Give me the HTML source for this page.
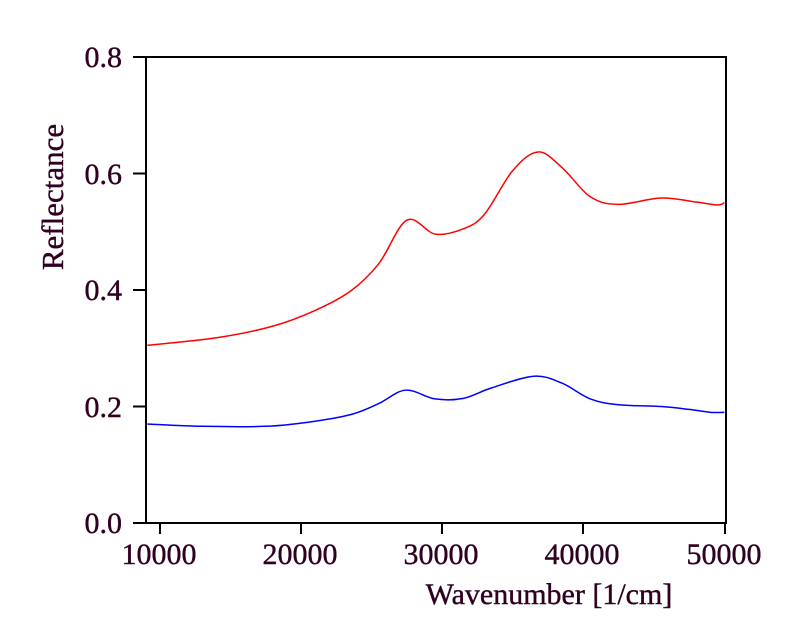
<!DOCTYPE html>
<html><head><meta charset="utf-8"><style>
html,body{margin:0;padding:0;background:#fff;}
svg{display:block;}
</style></head><body>
<svg id="s" width="790" height="634" xmlns="http://www.w3.org/2000/svg" font-family="Liberation Serif, serif" fill="#300020">
<rect x="146" y="57" width="580" height="466" fill="none" stroke="#000" stroke-width="2"/>
<g stroke="#000" stroke-width="2">
<line x1="133" y1="523" x2="146" y2="523"/>
<line x1="133" y1="406.5" x2="146" y2="406.5"/>
<line x1="133" y1="290" x2="146" y2="290"/>
<line x1="133" y1="173.5" x2="146" y2="173.5"/>
<line x1="133" y1="57" x2="146" y2="57"/>
<line x1="160" y1="523" x2="160" y2="534"/>
<line x1="301" y1="523" x2="301" y2="534"/>
<line x1="442" y1="523" x2="442" y2="534"/>
<line x1="583" y1="523" x2="583" y2="534"/>
<line x1="725" y1="523" x2="725" y2="534"/>
</g>
<g font-size="30" stroke="#300020" stroke-width="0.4">
<g text-anchor="end">
<text x="122" y="533">0.0</text>
<text x="122" y="417">0.2</text>
<text x="122" y="300">0.4</text>
<text x="122" y="184">0.6</text>
<text x="122" y="67">0.8</text>
</g>
<g text-anchor="middle">
<text x="159" y="564">10000</text>
<text x="300" y="564">20000</text>
<text x="441" y="564">30000</text>
<text x="582" y="564">40000</text>
<text x="724" y="564">50000</text>
<text x="549" y="604">Wavenumber [1/cm]</text>
<text transform="translate(63,197) rotate(-90)" font-size="31">Reflectance</text>
</g>
</g>
<path id="r" fill="none" stroke="#f00" stroke-width="1.5"/>
<path id="b" fill="none" stroke="#00f" stroke-width="1.5"/>
</svg>
<script>
function P(pts){var p=pts.map(function(a){return [160+(a[0]-10000)*0.01411,523-582.5*a[1]];});
var d="M"+p[0][0]+","+p[0][1];
for(var i=0;i<p.length-1;i++){var p0=p[i-1]||p[i],p1=p[i],p2=p[i+1],p3=p[i+2]||p2;
d+=" C"+(p1[0]+(p2[0]-p0[0])/6)+","+(p1[1]+(p2[1]-p0[1])/6)+" "+(p2[0]-(p3[0]-p1[0])/6)+","+(p2[1]-(p3[1]-p1[1])/6)+" "+p2[0]+","+p2[1];}
return d;}
document.getElementById("r").setAttribute("d",P([[9100,0.305],[14000,0.318],[18000,0.338],[21000,0.365],[23500,0.398],[25500,0.445],[27500,0.52],[29500,0.496],[31500,0.505],[33000,0.53],[35000,0.605],[36800,0.637],[38500,0.61],[40500,0.56],[42500,0.547],[45500,0.558],[48000,0.551],[49500,0.546],[50000,0.55]]));
document.getElementById("b").setAttribute("d",P([[9100,0.17],[13000,0.166],[17500,0.166],[20500,0.173],[23500,0.186],[25500,0.205],[27400,0.228],[29500,0.213],[31500,0.214],[33500,0.232],[36500,0.252],[38500,0.24],[40500,0.213],[42500,0.203],[45500,0.2],[47500,0.195],[49000,0.19],[50000,0.19]]));
</script>
</body></html>
